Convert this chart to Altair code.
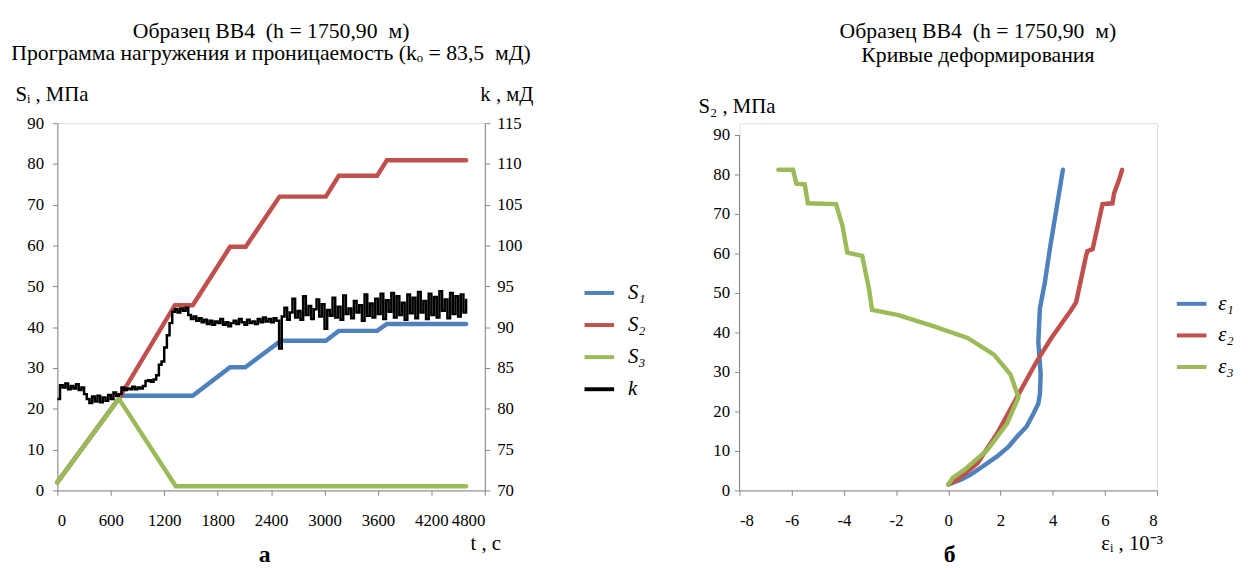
import altair as alt
import pandas as pd

FONT = "Times New Roman"
BLUE, RED, GREEN = "#4F81BD", "#C0504D", "#9BBB59"
AXC = "#868686"
SP = "\u00a0"

# ---------- left panel: loading programme and permeability ----------
T_S1 = [0, 690, 710, 1520, 1940, 2110, 2510, 3015, 3160, 3590, 3700, 4590]
S1 = [2.0, 22.5, 23.2, 23.2, 30.2, 30.2, 36.7, 36.7, 39.1, 39.1, 40.8, 40.8]

T_S2 = [0, 690, 1320, 1520, 1940, 2115, 2495, 3015, 3160, 3590, 3700, 4590]
S2 = [2.0, 22.5, 45.4, 45.4, 59.7, 59.7, 72.0, 72.0, 77.1, 77.1, 80.9, 80.9]

T_S3 = [0, 690, 1330, 2400, 3700, 4590]
S3 = [2.0, 22.5, 1.0, 1.0, 1.0, 1.0]

K_STEP = 30
K = [
    81.2, 82.9, 82.6, 83.1, 82.4, 82.8, 82.5, 83.0, 82.3, 82.6,
    81.8, 81.2, 80.7, 81.5, 80.9, 81.6, 80.8, 81.4, 81.0, 81.7,
    81.2, 82.0, 81.6, 81.8, 82.6, 82.3, 82.5, 82.4, 82.7, 82.4,
    82.6, 82.5, 82.8, 83.4, 83.5, 83.3, 83.6, 84.1, 85.4, 85.8,
    87.5, 89.0, 90.5, 91.9, 92.2, 91.8, 92.3, 92.0, 92.4, 91.5,
    91.0, 91.3, 90.8, 91.1, 90.6, 90.9, 90.4, 90.8, 90.3, 90.7,
    90.5, 91.0, 90.3, 90.6, 90.1, 90.5, 90.8, 90.4, 91.0, 90.6,
    90.3, 90.9, 90.5, 90.7, 90.4, 91.0, 90.6, 91.2, 90.7, 91.0,
    90.6, 91.1, 90.8, 87.4, 91.3, 92.4, 90.9, 91.8, 93.5, 91.2,
    92.0, 90.9, 93.8, 91.5, 92.6, 91.0, 92.2, 93.4, 91.3, 92.8,
    89.8, 92.1, 91.4, 93.6, 91.2, 92.5, 90.9, 93.9, 91.6, 92.3,
    91.1, 93.2, 91.8, 92.7, 90.8, 94.0, 91.4, 92.9, 91.2, 93.5,
    91.6, 94.1, 91.0, 93.3, 91.9, 94.2, 91.2, 93.8, 91.5, 93.0,
    90.9, 94.0, 91.7, 93.6, 91.1, 94.3, 91.8, 93.2, 91.0, 94.1,
    91.5, 93.7, 91.2, 94.4, 92.0, 93.4, 91.1, 94.2, 91.6, 93.8,
    91.3, 94.0, 91.8, 93.5,
]
T_K = [i * K_STEP for i in range(len(K))]

X_TICKS_L = [0, 600, 1200, 1800, 2400, 3000, 3600, 4200, 4800]
Y_TICKS_L = [0, 10, 20, 30, 40, 50, 60, 70, 80, 90]
Y_TICKS_K = [70, 75, 80, 85, 90, 95, 100, 105, 110, 115]

# ---------- right panel: deformation curves ----------
E1_EPS = [0.0, 0.5, 0.86, 1.3, 1.87, 2.3, 2.63, 3.0, 3.26, 3.45, 3.51, 3.54, 3.45, 3.51, 3.70, 3.89, 4.14, 4.39]
E1_S = [1.5, 2.8, 4.0, 6.0, 8.6, 11.0, 13.6, 16.2, 19.4, 22.0, 24.4, 29.4, 37.7, 46.1, 52.7, 61.1, 71.1, 81.2]

E2_EPS = [0.0, 0.36, 1.12, 1.87, 2.63, 3.39, 3.95, 4.39, 4.71, 4.90, 5.28, 5.33, 5.53, 5.91, 6.29, 6.35, 6.54, 6.66]
E2_S = [1.5, 2.7, 6.9, 14.4, 23.6, 32.7, 38.6, 42.7, 45.7, 47.7, 59.4, 60.6, 61.1, 72.5, 72.7, 75.2, 78.6, 81.2]

E3_EPS = [0.0, 0.17, 0.61, 1.49, 2.25, 2.69, 2.38, 1.75, 0.74, -0.52, -1.91, -2.92, -3.04, -3.30, -3.87, -4.05, -4.30, -5.38, -5.50, -5.82, -5.95, -6.51]
E3_S = [1.5, 3.2, 5.2, 10.2, 16.9, 23.6, 29.4, 34.4, 38.6, 41.5, 44.4, 45.7, 51.1, 59.4, 60.2, 66.9, 72.5, 72.7, 77.5, 77.7, 81.2, 81.2]

X_TICKS_R = [-8, -6, -4, -2, 0, 2, 4, 6, 8]
Y_TICKS_R = [0, 10, 20, 30, 40, 50, 60, 70, 80, 90]

S_NAMES = ["S₁", "S₂", "S₃", "k"]
E_NAMES = ["ε₁", "ε₂", "ε₃"]


def frame(name, xs, ys, xname, yname):
    return pd.DataFrame({"series": name, xname: xs, yname: ys, "i": list(range(len(xs)))})


W1, H1 = 433, 372
W2, H2 = 423, 372


def ax(**kw):
    base = dict(grid=False, domainColor=AXC, tickColor=AXC, tickSize=5,
                labelFont=FONT, labelFontSize=17, labelColor="black", labelOverlap=False,
                titleFont=FONT, titleFontSize=21, titleFontWeight="normal",
                titleColor="black", titleAngle=0, titleBaseline="alphabetic",
                titleAlign="left")
    base.update(kw)
    return alt.Axis(**base)


xL = alt.X("t:Q", scale=alt.Scale(domain=[0, 4800], nice=False),
           axis=ax(values=X_TICKS_L, format="d", title="t , с", titleX=418, titleY=60,
                   labelPadding=18))
yL = alt.Y("v:Q", scale=alt.Scale(domain=[0, 90], nice=False),
           axis=ax(values=Y_TICKS_L, title="Sᵢ , МПа", titleX=-43, titleY=-23, labelPadding=9))
colL = alt.Color("series:N",
                 scale=alt.Scale(domain=S_NAMES, range=[BLUE, RED, GREEN, "black"]),
                 legend=alt.Legend(title=None, orient="none", legendX=532, legendY=155,
                                   symbolType="stroke", symbolSize=900, symbolStrokeWidth=4,
                                   labelFont=FONT, labelFontSize=21, labelFontStyle="italic",
                                   labelColor="black", rowPadding=5.5, labelOffset=12))

s_layers = []
for name, ts, vs in [("S₁", T_S1, S1), ("S₂", T_S2, S2), ("S₃", T_S3, S3)]:
    s_layers.append(
        alt.Chart(frame(name, ts, vs, "t", "v")).mark_line(strokeWidth=4.5, strokeCap="round")
        .encode(x=xL, y=yL, color=colL, order="i:Q")
    )
s_group = alt.layer(*s_layers)

k_line = alt.Chart(frame("k", T_K, K, "t", "kv")).mark_line(
    strokeWidth=2.5, interpolate="step-after").encode(
    x=xL,
    y=alt.Y("kv:Q", scale=alt.Scale(domain=[70, 115], nice=False),
            axis=ax(values=Y_TICKS_K, orient="right", title="k , мД", titleX=-5, titleY=-23,
                    labelPadding=7)),
    color=colL, order="i:Q")

lab_a = alt.Chart(pd.DataFrame({"lab": ["а"]})).mark_text(
    font=FONT, fontSize=24, fontWeight="bold", color="black", baseline="middle").encode(
    x=alt.value(210), y=alt.value(438), text="lab:N")

left = alt.layer(s_group, k_line, lab_a).resolve_scale(y="independent").properties(
    width=W1, height=H1,
    title=alt.Title([f"Образец ВВ4{SP}{SP}(h = 1750,90{SP}{SP}м)",
                     f"Программа нагружения и проницаемость (kₒ = 83,5{SP}{SP}мД)"],
                    font=FONT, fontSize=22, fontWeight="normal", color="black",
                    anchor="middle", lineHeight=22, offset=19))

xR = alt.X("eps:Q", scale=alt.Scale(domain=[-8, 8], nice=False),
           axis=ax(values=X_TICKS_R, labelExpr="datum.value", title="εᵢ , 10⁻³",
                   titleX=366, titleY=60, labelPadding=18))
yR = alt.Y("s:Q", scale=alt.Scale(domain=[0, 93], nice=False),
           axis=ax(values=Y_TICKS_R, title="S₂ , МПа", titleX=-42, titleY=-11, labelPadding=5,
                   domain=False))
colR = alt.Color("series:N", scale=alt.Scale(domain=E_NAMES, range=[BLUE, RED, GREEN]),
                 legend=alt.Legend(title=None, orient="none", legendX=441, legendY=166,
                                   symbolType="stroke", symbolSize=900, symbolStrokeWidth=4,
                                   labelFont=FONT, labelFontSize=21, labelFontStyle="italic",
                                   labelColor="black", rowPadding=5, labelOffset=10))

e_layers = []
for name, xs, ys in [("ε₁", E1_EPS, E1_S), ("ε₂", E2_EPS, E2_S), ("ε₃", E3_EPS, E3_S)]:
    e_layers.append(
        alt.Chart(frame(name, xs, ys, "eps", "s")).mark_line(strokeWidth=4.5, strokeCap="round")
        .encode(x=xR, y=yR, color=colR, order="i:Q")
    )

axis_line = alt.Chart(pd.DataFrame({"eps": [-8], "s": [0], "s2": [90]})).mark_rule(
    color=AXC, strokeWidth=1).encode(x=xR, y=yR, y2="s2:Q")

lab_b = alt.Chart(pd.DataFrame({"lab": ["б"]})).mark_text(
    font=FONT, fontSize=24, fontWeight="bold", color="black", baseline="middle").encode(
    x=alt.value(213), y=alt.value(438), text="lab:N")

right = alt.layer(axis_line, *e_layers, lab_b).properties(
    width=W2, height=H2,
    title=alt.Title([f"Образец ВВ4{SP}{SP}(h = 1750,90{SP}{SP}м)", "Кривые деформирования"],
                    font=FONT, fontSize=22, fontWeight="normal", color="black",
                    anchor="middle", lineHeight=24, offset=29, dx=30))

chart = alt.hconcat(left, right, spacing=51).resolve_scale(color="independent").configure_view(
    stroke=None).configure_axis(labelFont=FONT, titleFont=FONT).configure(
    font=FONT).properties(padding={"left": 2, "top": 8, "right": 5, "bottom": 2})

chart.save("out.html", embed_options={"renderer": "svg", "actions": False})
